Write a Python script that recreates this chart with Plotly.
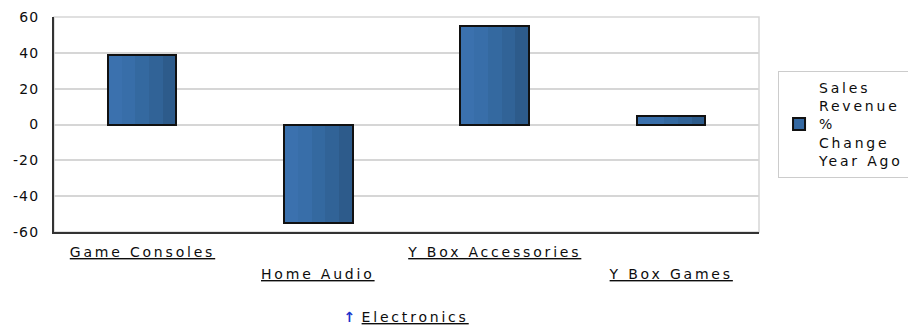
import plotly.graph_objects as go

# Chart data
categories = ["Game Consoles", "Home Audio", "Y Box Accessories", "Y Box Games"]
pct_change = [39, -55, 55, 5]
series_name = "Sales<br>Revenue<br>%<br>Change<br>Year Ago"
y_tick_values = [-60, -40, -20, 0, 20, 40, 60]
y_tick_text = ["-60", "-40", "-20", "0", "20", "40", "60"]
drill_label = "Electronics"

FONT = "DejaVu Sans"
TEXT = "#0d0d0d"
GRID = "#d6d6d6"
AXIS = "#333333"

# Horizontal shading of each bar, left (light) to right (dark)
stripe_colors = ["#3b71ae", "#386ea9", "#3469a0", "#316397", "#2d5b8b"]
bar_width = 0.39

fig = go.Figure()

n = len(stripe_colors)
for i, col in enumerate(stripe_colors):
    fig.add_bar(
        x=categories, y=pct_change,
        width=bar_width / n, offset=-bar_width / 2 + i * bar_width / n,
        marker=dict(color=col, line=dict(width=0)),
        showlegend=False, hoverinfo="skip",
    )

# dark outline around every bar
fig.add_bar(
    x=categories, y=pct_change,
    width=bar_width, offset=-bar_width / 2,
    marker=dict(color="rgba(0,0,0,0)", line=dict(color="#111111", width=2)),
    showlegend=False, name="Sales Revenue % Change Year Ago",
)

# legend entry for the series
fig.add_bar(
    x=[None], y=[None], name=series_name,
    marker=dict(color="#3569a2", line=dict(color="#111111", width=2)),
    showlegend=True,
)

annotations = []
for i, cat in enumerate(categories):
    annotations.append(dict(
        x=cat, xref="x", y=0, yref="paper",
        text=cat, showarrow=False,
        xanchor="center", yanchor="middle",
        yshift=-20 if i % 2 == 0 else -42,
        font=dict(family=FONT, size=14, color=TEXT, lineposition="under"),
    ))

annotations.append(dict(
    x=0.421, xref="paper", y=0, yref="paper", yshift=-85,
    text="<b>\u2191</b>", showarrow=False, xanchor="center", yanchor="middle",
    font=dict(family=FONT, size=14, color="#1a33cc"),
))
annotations.append(dict(
    x=0.512, xref="paper", y=0, yref="paper", yshift=-85,
    text=drill_label, showarrow=False, xanchor="center", yanchor="middle",
    font=dict(family=FONT, size=14, color=TEXT, lineposition="under"),
))

fig.update_layout(
    width=908, height=331,
    margin=dict(l=54, r=149, t=17, b=99, autoexpand=False),
    paper_bgcolor="white", plot_bgcolor="white",
    barmode="overlay", bargap=0,
    font=dict(family=FONT, size=14, color=TEXT),
    showlegend=True,
    legend=dict(
        x=1.027, y=0.5, xanchor="left", yanchor="middle",
        bgcolor="white", bordercolor="#cccccc", borderwidth=1,
        font=dict(family=FONT, size=14, color=TEXT),
        valign="middle",
    ),
    annotations=annotations,
    shapes=[dict(
        type="rect", xref="paper", yref="paper", x0=0, x1=1, y0=0, y1=1,
        line=dict(color=GRID, width=1.5), layer="below",
    )],
    xaxis=dict(
        showticklabels=False, showgrid=False, zeroline=False,
        showline=True, linecolor=AXIS, linewidth=2, ticks="",
    ),
    yaxis=dict(
        range=[-60, 60], tickvals=y_tick_values, ticktext=y_tick_text,
        showgrid=True, gridcolor=GRID, gridwidth=1.5, zeroline=False,
        showline=True, linecolor=AXIS, linewidth=2, ticks="",
        tickfont=dict(family=FONT, size=14, color=TEXT),
        ticklabelstandoff=10,
    ),
)

# widen the lettering, then redraw; the legend font is nudged so its
# text box is measured again with the wider spacing
post = """
var st = document.createElement('style');
st.textContent = 'svg text { letter-spacing: 0.2em; } .ytick text { letter-spacing: 0.08em; }';
document.head.appendChild(st);
var gd = document.getElementById('{plot_id}');
gd.layout.legend.font.size = gd.layout.legend.font.size + 0.001;
Plotly.newPlot(gd, gd.data, gd.layout, {displayModeBar: false});
"""

fig.write_html("out.html", config={"displayModeBar": False}, post_script=post)
